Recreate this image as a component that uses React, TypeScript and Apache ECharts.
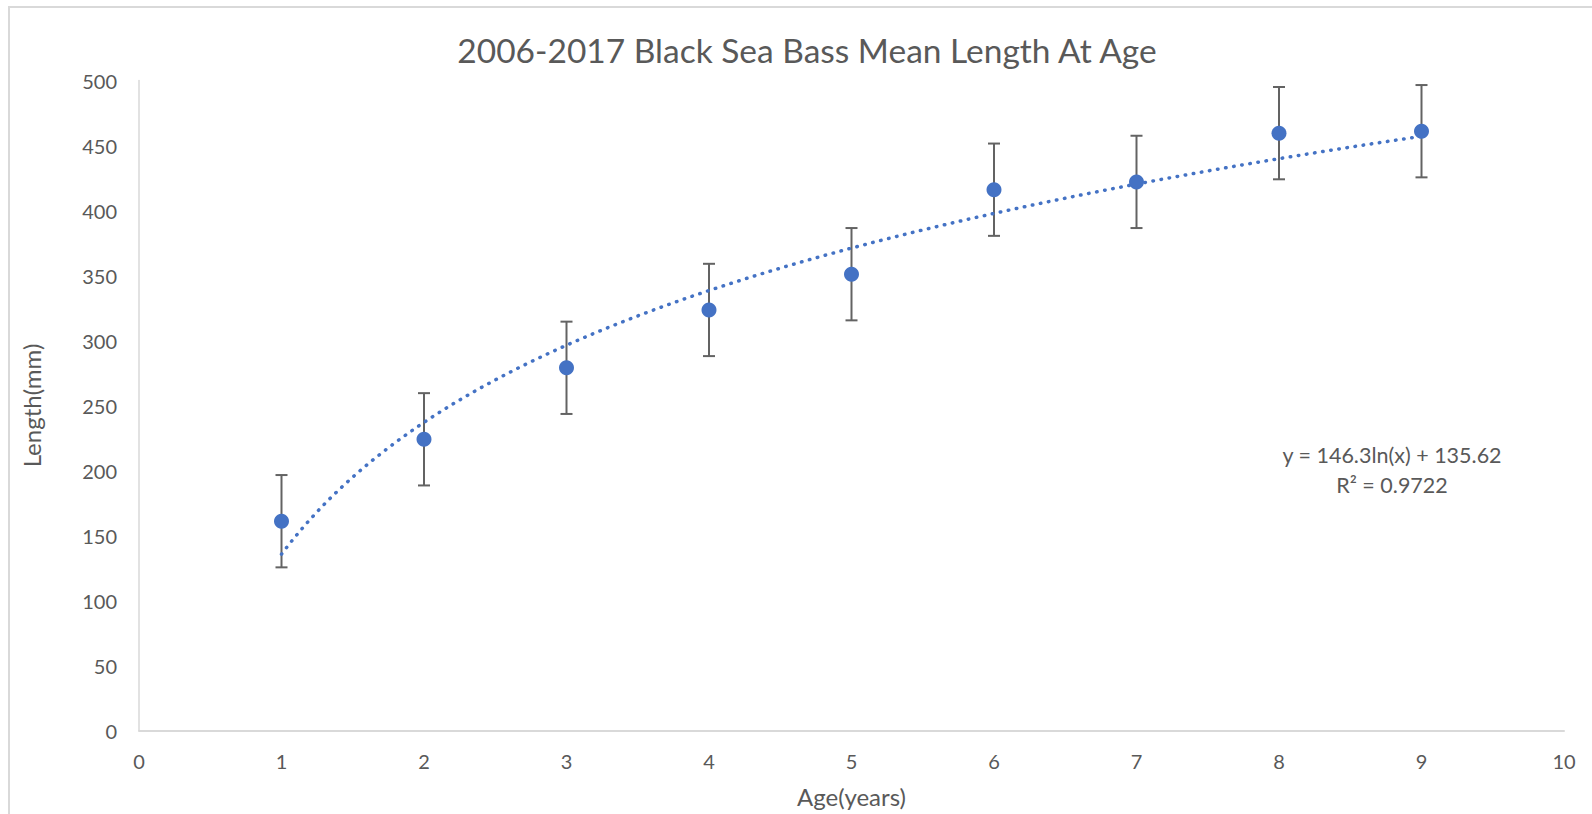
import React, { useEffect, useRef } from "react";
import * as echarts from "echarts";

const ages = [1, 2, 3, 4, 5, 6, 7, 8, 9];
const meanLength = [161, 224, 279, 323.5, 351, 416, 422, 459.5, 461];
const errorAmount = [35.5, 35.5, 35.5, 35.5, 35.5, 35.5, 35.5, 35.5, 35.5];
const xTicks = [0, 1, 2, 3, 4, 5, 6, 7, 8, 9, 10];
const yTicks = [0, 50, 100, 150, 200, 250, 300, 350, 400, 450, 500];
const trendA = 146.3;
const trendB = 135.62;
const equationText = "y = 146.3ln(x) + 135.62";
const r2Text = "R² = 0.9722";
const titleText = "2006-2017 Black Sea Bass Mean Length At Age";

const FONT = "Lato, 'Open Sans', sans-serif";
const TEXT = "#595959";
const BLUE = "#4472C4";

export default function App() {
  const ref = useRef<HTMLDivElement>(null);
  useEffect(() => {
    if (!ref.current) return;
    const chart = echarts.init(ref.current, undefined, { renderer: "svg" });
    const pts = ages.map((a, i) => [a, meanLength[i]]);
    const errs = ages.map((a, i) => [a, meanLength[i], errorAmount[i]]);
    const trend: number[][] = [];
    const xmin = ages[0];
    const xmax = ages[ages.length - 1];
    const steps = 160;
    for (let i = 0; i <= steps; i++) {
      const x = xmin + ((xmax - xmin) * i) / steps;
      trend.push([x, trendA * Math.log(x) + trendB]);
    }
    chart.setOption({
      animation: false,
      title: {
        text: titleText,
        left: 802,
        top: 27.5,
        textAlign: "center",
        textStyle: { fontFamily: FONT, fontSize: 33.5, fontWeight: "normal", color: TEXT },
      },
      grid: { left: 139, top: 80.5, width: 1425, height: 650, containLabel: false },
      xAxis: {
        type: "value",
        min: xTicks[0],
        max: xTicks[xTicks.length - 1],
        interval: 1,
        name: "Age(years)",
        nameLocation: "middle",
        nameGap: 54,
        nameTextStyle: { fontFamily: FONT, fontSize: 24, color: TEXT },
        axisLine: { show: true, onZero: false, lineStyle: { color: "#d9d9d9", width: 2 } },
        axisTick: { show: false },
        splitLine: { show: false },
        axisLabel: { margin: 20, fontFamily: FONT, fontSize: 20, color: TEXT },
      },
      yAxis: {
        type: "value",
        min: yTicks[0],
        max: yTicks[yTicks.length - 1],
        interval: 50,
        name: "Length(mm)",
        nameLocation: "middle",
        nameGap: 96,
        nameRotate: 90,
        nameTextStyle: { fontFamily: FONT, fontSize: 24, color: TEXT },
        axisLine: { show: true, lineStyle: { color: "#d9d9d9", width: 1.5 } },
        axisTick: { show: false },
        splitLine: { show: false },
        axisLabel: { margin: 22, fontFamily: FONT, fontSize: 20, color: TEXT },
      },
      graphic: [
        {
          type: "text",
          x: 1392,
          y: 454.5,
          style: {
            text: equationText,
            fontFamily: FONT,
            fontSize: 21.5,
            fill: TEXT,
            align: "center",
            verticalAlign: "middle",
          },
        },
        {
          type: "text",
          x: 1392,
          y: 484.5,
          style: {
            text: r2Text,
            fontFamily: FONT,
            fontSize: 21.5,
            fill: TEXT,
            align: "center",
            verticalAlign: "middle",
          },
        },
      ],
      series: [
        {
          type: "custom",
          z: 1,
          data: errs,
          encode: { x: 0, y: 1 },
          renderItem: (params: any, api: any) => {
            const x = api.value(0);
            const y = api.value(1);
            const e = api.value(2);
            const top = api.coord([x, y + e]);
            const bot = api.coord([x, y - e]);
            const hw = 6;
            const st = { stroke: "#636363", lineWidth: 2 };
            return {
              type: "group",
              children: [
                { type: "line", shape: { x1: top[0], y1: top[1], x2: bot[0], y2: bot[1] }, style: st },
                { type: "line", shape: { x1: top[0] - hw, y1: top[1], x2: top[0] + hw, y2: top[1] }, style: st },
                { type: "line", shape: { x1: bot[0] - hw, y1: bot[1], x2: bot[0] + hw, y2: bot[1] }, style: st },
              ],
            };
          },
        },
        {
          type: "line",
          z: 2,
          data: trend,
          showSymbol: false,
          symbol: "none",
          smooth: false,
          lineStyle: { color: BLUE, width: 3.5, type: [0.5, 7.7], cap: "round" },
        },
        {
          type: "scatter",
          z: 3,
          data: pts,
          symbol: "circle",
          symbolSize: 15,
          itemStyle: { color: BLUE, opacity: 1 },
        },
      ],
    });
    return () => chart.dispose();
  }, []);
  return (
    <div
      style={{
        position: "fixed",
        left: 0,
        top: 0,
        width: 1592,
        height: 814,
        overflow: "hidden",
        background: "#ffffff",
      }}
    >
      <div
        style={{
          position: "absolute",
          left: 8,
          top: 6,
          width: 1700,
          height: 900,
          borderTop: "2px solid #d9d9d9",
          borderLeft: "2px solid #d9d9d9",
        }}
      />
      <div ref={ref} style={{ position: "absolute", left: 0, top: 0, width: 1592, height: 814 }} />
    </div>
  );
}
